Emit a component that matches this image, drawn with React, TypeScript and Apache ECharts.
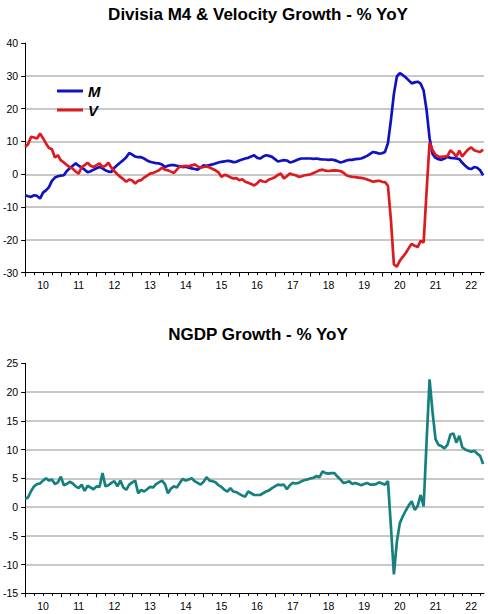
import React, { useEffect, useRef } from "react";
import * as echarts from "echarts";

// Monthly observations, January 2010 onwards (index 0 = Jan 2010)
const YEAR_LABELS = ["10", "11", "12", "13", "14", "15", "16", "17", "18", "19", "20", "21", "22"];

const M_GROWTH = [
  -6.4, -6.7, -6.9, -6.4, -6.6, -7.4, -5.6, -4.9, -3.9, -2.0, -1.0, -0.6,
  -0.4, -0.3, 1.0, 1.8, 2.6, 3.3, 2.6, 2.0, 1.4, 0.6, 0.9, 1.4,
  1.8, 2.2, 1.8, 1.2, 0.8, 0.7, 2.0, 2.8, 3.6, 4.3, 5.2, 6.5,
  6.0, 5.4, 5.2, 5.2, 4.8, 4.2, 3.8, 3.6, 3.4, 3.3, 3.0, 2.2,
  2.6, 2.8, 2.8, 2.6, 2.4, 2.2, 2.3, 2.0, 1.8, 1.6, 1.4, 2.0,
  2.7, 2.6, 2.8, 3.0, 3.3, 3.6, 3.8, 3.9, 4.1, 4.0, 3.7, 3.8,
  4.2, 4.5, 4.8, 5.0, 5.4, 5.8, 5.0, 4.8, 5.4, 5.8, 5.6, 5.3,
  4.6, 3.9, 4.1, 4.3, 4.2, 3.6, 3.8, 4.2, 4.6, 4.8, 4.8, 4.8,
  4.8, 4.7, 4.8, 4.6, 4.5, 4.5, 4.4, 4.5, 4.3, 4.0, 3.6, 3.8,
  4.2, 4.4, 4.4, 4.6, 4.7, 4.8, 5.2, 5.6, 6.2, 6.8, 6.6, 6.3,
  6.4, 6.8, 9.5, 16.5, 24.5, 29.8, 30.8, 30.2, 29.5, 28.6, 27.7, 28.0,
  28.2, 27.6, 25.5, 19.5, 11.0, 6.2, 5.0, 4.6, 4.4, 4.8, 5.3, 5.0,
  4.9, 4.8, 4.6, 3.5, 2.6, 1.8, 1.6, 2.2, 2.0, 1.2, -0.3,
];

const V_GROWTH = [
  8.3, 9.2, 11.4, 11.2, 10.9, 12.4, 11.0, 9.4, 8.0, 7.6, 5.1, 5.8,
  4.2, 3.6, 2.8, 2.2, 1.7, 0.8, 0.2, 2.2, 2.8, 3.5, 2.6, 2.2,
  2.8, 3.3, 2.2, 2.6, 3.5, 2.0, 0.9, 0.0, -0.8, -1.5, -2.3, -1.6,
  -1.9, -2.8, -2.0, -1.8, -1.0, -0.4, 0.2, 0.4, 0.8, 1.2, 2.0, 1.4,
  1.2, 0.8, 0.4, 1.4, 2.4, 2.4, 2.6, 2.4, 2.7, 3.0, 2.4, 2.0,
  2.2, 2.4, 2.1, 1.6, 1.2, 0.6, -0.8, -0.2, -0.4, -0.9, -1.3, -1.2,
  -1.8, -1.5, -2.3, -2.6, -3.0, -3.4, -2.8, -1.8, -2.2, -2.3, -1.6, -1.3,
  -0.9, -0.2, 0.2, -1.3, -0.6, 0.2, -0.1, -0.3, -0.8, -0.6, -0.3, -0.2,
  0.0, 0.4, 0.8, 1.2, 1.4, 1.1, 1.0, 1.1, 1.2, 1.1, 1.0, 0.5,
  -0.3, -0.6, -0.8, -0.9, -1.0, -1.1, -1.3, -1.6, -1.9, -2.3, -2.1, -2.0,
  -2.3, -2.4, -3.5, -14.0, -27.5, -28.2, -26.3, -25.2, -24.0, -22.5, -21.2, -21.8,
  -22.2, -20.3, -20.8, -5.0, 9.6, 7.4, 5.9, 5.4, 5.3, 5.4, 5.5, 7.3,
  6.5, 5.4, 7.2, 5.4, 6.6, 7.6, 8.2, 7.3, 7.0, 6.8, 7.5,
];

const NGDP_GROWTH = [
  1.4, 1.7, 2.8, 3.6, 4.0, 4.1, 4.6, 5.0, 4.6, 4.8, 4.0, 4.3,
  5.3, 3.8, 4.0, 4.4, 4.1, 3.6, 3.3, 3.9, 2.8, 3.7, 3.4, 3.1,
  3.6, 3.5, 5.9, 3.6, 3.8, 4.2, 4.5, 3.6, 4.6, 3.4, 3.0, 3.9,
  4.3, 4.6, 2.4, 3.0, 2.7, 3.1, 3.5, 3.4, 4.0, 4.3, 4.6, 4.0,
  2.4, 3.2, 3.6, 3.4, 4.2, 4.9, 4.6, 4.8, 5.0, 4.5, 4.2, 3.9,
  4.4, 5.2, 4.6, 4.5, 4.3, 3.8, 3.5, 3.0, 2.7, 3.3, 2.7, 2.6,
  2.3, 2.0, 1.8, 2.7, 2.4, 2.1, 2.1, 2.1, 2.4, 2.7, 2.9, 3.3,
  3.6, 3.9, 3.8, 3.9, 3.1, 3.8, 4.2, 4.1, 4.2, 4.5, 4.7, 4.8,
  5.0, 5.1, 5.4, 5.2, 6.2, 5.9, 5.8, 5.9, 5.9, 5.3, 4.8, 4.2,
  4.3, 4.5, 4.0, 4.2, 4.0, 3.8, 4.0, 4.2, 3.9, 3.9, 4.0, 4.3,
  4.1, 3.9, 4.5, -3.4, -11.7, -6.0, -2.8, -1.6, -0.6, 0.3, 1.0, -0.5,
  0.2, 2.1, 0.1, 11.5, 22.2, 16.5, 11.8, 10.8, 10.6, 10.2, 10.8, 12.6,
  12.8, 11.2, 12.4, 10.4, 10.0, 9.8, 9.6, 9.8, 9.3, 8.9, 7.5,
];

const TITLE_TOP = "Divisia M4 & Velocity Growth - % YoY";
const TITLE_BOTTOM = "NGDP Growth - % YoY";

const FONT = '"Liberation Sans", Arial, sans-serif';
const X_MAX = 154.3;

const toPairs = (arr: number[]) => arr.map((v, i) => [i, v]);

export default function App() {
  const ref = useRef<HTMLDivElement>(null);

  useEffect(() => {
    if (!ref.current) return;
    const chart = echarts.init(ref.current, null, { renderer: "svg" });

    const yearTicks = YEAR_LABELS.map((_, i) => i * 12);
    const yearMids = YEAR_LABELS.map((_, i) => i * 12 + 6);
    const quarterTicks: number[] = [];
    for (let m = 3; m < X_MAX; m += 3) if (m % 12 !== 0) quarterTicks.push(m);

    const makeX = (gridIndex: number) => [
      {
        type: "value",
        gridIndex,
        min: 0,
        max: X_MAX,
        position: "bottom",
        axisLine: { show: true, onZero: false, lineStyle: { color: "#000", width: 1 } },
        axisTick: { show: true, customValues: yearTicks, length: 4, lineStyle: { color: "#000" } },
        axisLabel: {
          show: true,
          customValues: yearMids,
          formatter: (v: number) => YEAR_LABELS[Math.round((v - 6) / 12)] ?? "",
          fontSize: 10.5,
          color: "#000",
          margin: 7,
          fontFamily: FONT,
        },
        splitLine: { show: false },
      },
      {
        type: "value",
        gridIndex,
        min: 0,
        max: X_MAX,
        position: "bottom",
        axisLine: { show: false, onZero: false },
        axisTick: { show: true, customValues: quarterTicks, length: 2.5, lineStyle: { color: "#000" } },
        axisLabel: { show: false },
        splitLine: { show: false },
      },
    ];

    const makeY = (gridIndex: number, min: number, max: number, interval: number) => ({
      type: "value",
      gridIndex,
      min,
      max,
      interval,
      axisLine: { show: true, onZero: false, lineStyle: { color: "#000", width: 1 } },
      axisTick: { show: true, length: 4, lineStyle: { color: "#000" } },
      axisLabel: { fontSize: 10.5, color: "#000", margin: 7, fontFamily: FONT },
      splitLine: {
        show: true,
        showMinLine: false,
        showMaxLine: false,
        lineStyle: { color: "#c8c8c8", width: 1.8 },
      },
    });

    chart.setOption({
      animation: false,
      backgroundColor: "#fff",
      textStyle: { fontFamily: FONT },
      title: [
        {
          text: TITLE_TOP,
          left: 253,
          top: 1,
          textAlign: "center",
          textStyle: { fontSize: 17, fontWeight: "bold", color: "#000", fontFamily: FONT },
        },
        {
          text: TITLE_BOTTOM,
          left: 253,
          top: 321,
          textAlign: "center",
          textStyle: { fontSize: 17, fontWeight: "bold", color: "#000", fontFamily: FONT },
        },
      ],
      legend: {
        data: ["M", "V"],
        orient: "vertical",
        left: 52,
        top: 78,
        icon: "rect",
        itemWidth: 26,
        itemHeight: 3,
        itemGap: 3,
        textStyle: {
          fontSize: 15,
          fontWeight: "bold",
          fontStyle: "italic",
          color: "#000",
          lineHeight: 16,
          fontFamily: FONT,
        },
      },
      grid: [
        { left: 23.7, right: 4, top: 43, height: 229.7 },
        { left: 23.7, right: 4, top: 363.3, height: 230 },
      ],
      xAxis: [...makeX(0), ...makeX(1)],
      yAxis: [makeY(0, -30, 40, 10), makeY(1, -15, 25, 5)],
      series: [
        {
          name: "M",
          type: "line",
          xAxisIndex: 0,
          yAxisIndex: 0,
          data: toPairs(M_GROWTH),
          symbol: "none",
          lineStyle: { color: "#1111c4", width: 2.7 },
          itemStyle: { color: "#1111c4" },
        },
        {
          name: "V",
          type: "line",
          xAxisIndex: 0,
          yAxisIndex: 0,
          data: toPairs(V_GROWTH),
          symbol: "none",
          lineStyle: { color: "#dc1a1f", width: 2.7 },
          itemStyle: { color: "#dc1a1f" },
        },
        {
          name: "NGDP",
          type: "line",
          xAxisIndex: 2,
          yAxisIndex: 1,
          data: toPairs(NGDP_GROWTH),
          symbol: "none",
          lineStyle: { color: "#168080", width: 2.7 },
          itemStyle: { color: "#168080" },
        },
      ],
    });

    return () => chart.dispose();
  }, []);

  return (
    <div
      ref={ref}
      style={{ position: "absolute", left: 0, top: 0, width: 488, height: 614, background: "#fff" }}
    />
  );
}
